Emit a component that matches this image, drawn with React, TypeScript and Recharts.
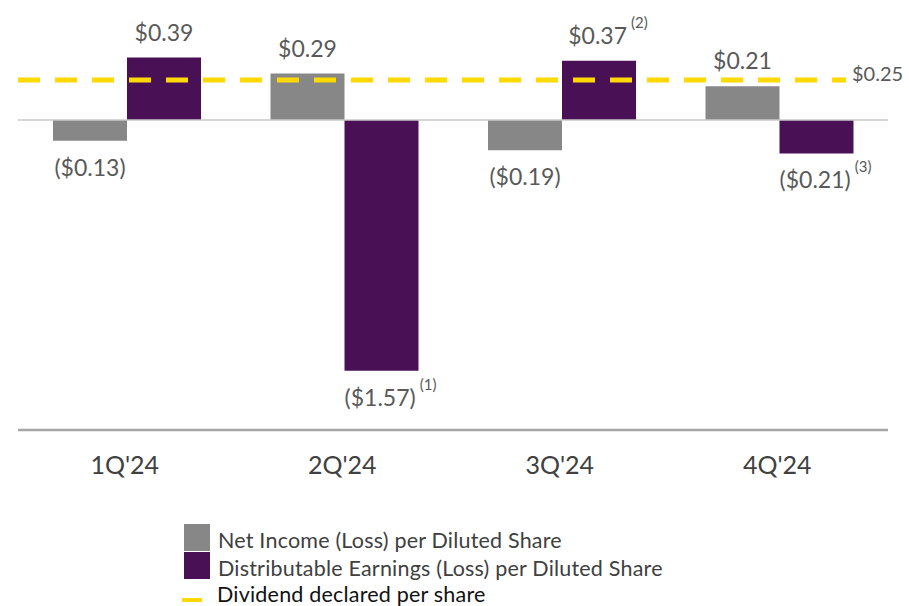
import { ComposedChart, Bar, XAxis, YAxis, ReferenceLine, LabelList, Legend } from 'recharts';

const quarters = ["1Q'24", "2Q'24", "3Q'24", "4Q'24"];
const netIncome = [-0.13, 0.29, -0.19, 0.21];
const distributable = [0.39, -1.57, 0.37, -0.21];
const niNotes = ['', '', '', ''];
const deNotes = ['', '(1)', '(2)', '(3)'];
const dividend = 0.25;

const GRAY = '#878787';
const PURPLE = '#4a1056';
const YELLOW = '#ffd900';
const FONT = 'Lato, "Open Sans", sans-serif';

const data = quarters.map((q, i) => ({ quarter: q, ni: netIncome[i], de: distributable[i] }));

const fmt = (v: number) => (v < 0 ? `($${Math.abs(v).toFixed(2)})` : `$${v.toFixed(2)}`);

function makeLabel(notes: string[]) {
  return (props: any) => {
    const { x, y, width, height, value, index } = props;
    const top = Math.min(y, y + height);
    const bottom = Math.max(y, y + height);
    const note = notes[index];
    const cx = x + width / 2 + (note ? 9 : 0);
    const baseY = value >= 0 ? top - 17 : bottom + 35;
    return (
      <text x={cx} y={baseY} textAnchor="middle" fill="#595959" fontSize={23} fontFamily={FONT}>
        <tspan>{fmt(value)}</tspan>
        {note ? (
          <tspan dx={4} dy={-16} fontSize={15}>
            {note}
          </tspan>
        ) : null}
      </text>
    );
  };
}

const QuarterTick = (props: any) => {
  const { x, y, payload } = props;
  return (
    <text x={x - 2} y={y + 44} textAnchor="middle" fill="#404040" fontSize={25} fontFamily={FONT}>
      {payload.value}
    </text>
  );
};

// dividend line stops short of the right edge, label sits after it
const DividendLine = (props: any) => {
  const { x1, y1, x2 } = props;
  const end = x2 - 42;
  return (
    <g>
      <line x1={x1} y1={y1} x2={end} y2={y1} stroke={YELLOW} strokeWidth={5} strokeDasharray="22 15" />
      <text x={end + 6} y={y1} dy={1} fill="#595959" fontSize={20} fontFamily={FONT}>
        ${dividend.toFixed(2)}
      </text>
    </g>
  );
};

const legendItems = [
  { label: 'Net Income (Loss) per Diluted Share', color: GRAY, kind: 'box' },
  { label: 'Distributable Earnings (Loss) per Diluted Share', color: PURPLE, kind: 'box' },
  { label: 'Dividend declared per share', color: YELLOW, kind: 'dash' },
];

const LegendBox = () => (
  <svg width={560} height={92} style={{ overflow: 'visible', display: 'block' }}>
    {legendItems.map((it, i) => {
      const base = [33, 61, 87][i];
      return (
        <g key={it.label}>
          {it.kind === 'box' ? (
            <rect x={4} y={base - 24} width={26} height={27} fill={it.color} />
          ) : (
            <line x1={2} x2={22} y1={base - 2} y2={base - 2} stroke={it.color} strokeWidth={4} />
          )}
          <text
            x={it.kind === 'box' ? 38 : 37}
            y={base}
            fill={it.kind === 'box' ? '#404040' : '#111111'}
            fontSize={21.5}
            letterSpacing={0.2}
            fontFamily={FONT}
          >
            {it.label}
          </text>
        </g>
      );
    })}
  </svg>
);

export default function App() {
  return (
    <div style={{ position: 'absolute', left: 0, top: 0, width: 909, height: 606, background: '#fff' }}>
      <ComposedChart
        width={909}
        height={606}
        data={data}
        margin={{ top: 40, right: 21, left: 18, bottom: 0 }}
        barGap={0}
      >
        <XAxis
          dataKey="quarter"
          height={176}
          axisLine={{ stroke: '#a6a6a6', strokeWidth: 2.5 }}
          tickLine={false}
          tickSize={0}
          tickMargin={0}
          tick={<QuarterTick />}
          interval={0}
        />
        <YAxis hide domain={[-1.94, 0.5]} type="number" allowDataOverflow />
        <ReferenceLine y={0} stroke="#c9c9c9" strokeWidth={1.5} />
        <Bar dataKey="ni" name="Net Income (Loss) per Diluted Share" fill={GRAY} barSize={74} isAnimationActive={false}>
          <LabelList dataKey="ni" content={makeLabel(niNotes)} />
        </Bar>
        <Bar dataKey="de" name="Distributable Earnings (Loss) per Diluted Share" fill={PURPLE} barSize={74} isAnimationActive={false}>
          <LabelList dataKey="de" content={makeLabel(deNotes)} />
        </Bar>
        <ReferenceLine y={dividend} shape={<DividendLine />} />
        <Legend
          layout="vertical"
          align="center"
          verticalAlign="middle"
          wrapperStyle={{ left: 180, top: 515, width: 600, height: 92 }}
          content={() => <LegendBox />}
        />
      </ComposedChart>
    </div>
  );
}
